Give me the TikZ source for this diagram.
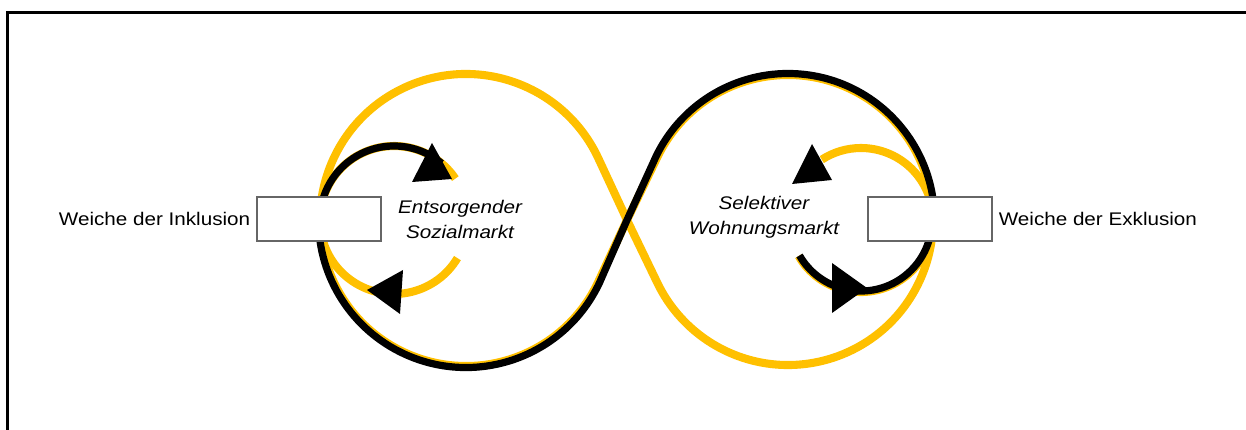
\documentclass[tikz,border=0pt]{standalone}
\usepackage{fontspec}
\setmainfont{Liberation Sans}[FakeStretch=1.13]

\definecolor{gold}{HTML}{FFC000}

\begin{document}
\begin{tikzpicture}[x=0.02cm, y=0.02cm,
  goldline/.style={line width=4.6pt, draw=gold},
  blackline/.style={line width=4.1pt, draw=black},
  weiche/.style={draw=black!60, fill=white, line width=0.7pt, minimum width=2.48cm, minimum height=0.88cm, inner sep=0pt},
  every node/.style={font=\fontsize{10.4}{14.2}\selectfont},
  markt/.style={align=center, font=\fontsize{10.4}{14.2}\selectfont\itshape}]
\useasboundingbox (0,0) rectangle (1246,429);
% frame, only its left and top edge lie on the page
\draw [line width=1.2pt] (7.5,-5) -- (7.5,416.5) -- (1250,416.5);

% centres of the loops and the crossing
\coordinate (kreuz) at (627,209);
\coordinate (mL) at (466,209);
\coordinate (mR) at (788,209);
\coordinate (mS) at (394,209);
\coordinate (mW) at (861,209);

% the figure eight
\draw [goldline] (kreuz) -- ([shift={(mL)}]24.9:146) arc (24.9:335.1:146) -- (kreuz) -- ([shift={(mR)}]154.2:145) arc (154.2:-154.2:145) -- cycle;
% small loops at the switches
\draw [goldline] ([shift={(mS)}]-31:74) arc (-31:-326:74);
\draw [goldline] ([shift={(mW)}]210:72) arc (210:483:72);

% black track, a little outside the gold one
\draw [blackline] ([shift={(mR)}]0:146.5) arc (0:154.2:146.5) -- (kreuz) -- ([shift={(mL)}]-24.9:147.5) arc (-24.9:-180:147.5);
\draw [blackline] ([shift={(mS)}]180:74) arc (180:50:74);
\draw [blackline] ([shift={(mW)}]210:71) arc (210:360:71);

% arrow heads
\fill (432,286) -- (412,247) -- (452,250) -- cycle;
\fill (367,139) -- (403,159) -- (400,115) -- cycle;
\fill (812,285) -- (792,245) -- (832,249) -- cycle;
\fill (867,141) -- (832,166) -- (832,116) -- cycle;

% switches
\node [weiche] (wInkl) at (319,210) {};
\node [weiche] (wExkl) at (930,210) {};
\node [left] (inkl) at (wInkl.west) {Weiche der Inklusion};
\node [right] (exkl) at (wExkl.east) {Weiche der Exklusion};

\node [markt] (sozial) at (460,210) {Entsorgender\\Sozialmarkt};
\node [markt] (wohnung) at (764,212) {Selektiver\\Wohnungsmarkt};
\end{tikzpicture}
\end{document}
